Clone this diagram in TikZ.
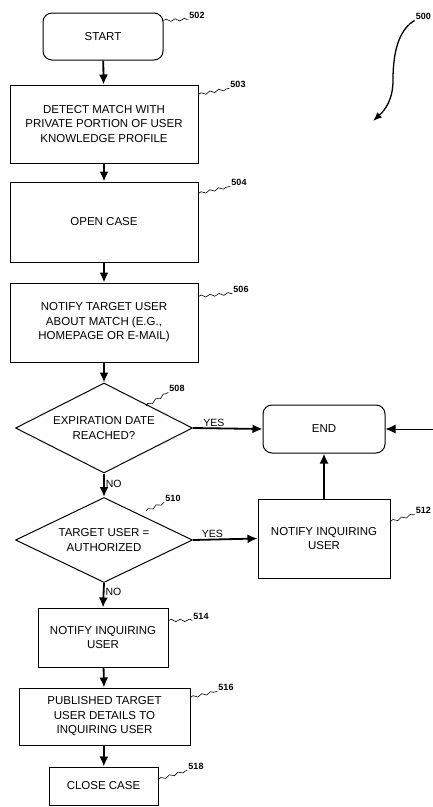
\documentclass[tikz,border=0pt]{standalone}
\usepackage{fontspec}
\setmainfont{Liberation Sans}
\usetikzlibrary{shapes.geometric,arrows.meta,decorations.pathmorphing}
\begin{document}
\begin{tikzpicture}[x=1pt,y=-1pt,
  box/.style={draw, line width=1pt, align=center, inner sep=0pt,
    font=\fontsize{11.5}{14.5}\selectfont},
  term/.style={box, rounded corners=9pt},
  dec/.style={draw, diamond, line width=1pt, align=center, inner sep=0pt, aspect=2,
    font=\fontsize{11.5}{14.5}\selectfont},
  flow/.style={line width=1.8pt, -{Latex[length=10pt,width=9pt]}},
  refnum/.style={font=\fontsize{9}{10}\selectfont\bfseries, inner sep=1pt},
  leader/.style={line width=0.6pt, decorate, decoration={snake, amplitude=1.2pt, segment length=9pt}},
  lbl/.style={font=\fontsize{10.5}{12}\selectfont, inner sep=1pt}]
\useasboundingbox (0,0) rectangle (432,807);

% nodes
\node[term, minimum width=120pt, minimum height=47pt] (start) at (103,36.5) {START};
\node[box, minimum width=188pt, minimum height=78pt] (b503) at (104,124) {DETECT MATCH WITH\\PRIVATE PORTION OF USER\\KNOWLEDGE PROFILE};
\node[box, minimum width=188pt, minimum height=80pt] (b504) at (104,222) {OPEN CASE};
\node[box, minimum width=188pt, minimum height=79pt] (b506) at (104,322.5) {NOTIFY TARGET USER\\ABOUT MATCH (E.G.,\\HOMEPAGE OR E-MAIL)};
\node[dec, minimum width=177pt, minimum height=90pt] (d508) at (104,428) {EXPIRATION DATE\\REACHED?};
\node[dec, minimum width=177pt, minimum height=85pt] (d510) at (104,540) {TARGET USER =\\AUTHORIZED};
\node[term, minimum width=122pt, minimum height=48pt] (end) at (324,429) {END};
\node[box, minimum width=132pt, minimum height=79pt] (b512) at (324,538.5) {NOTIFY INQUIRING\\USER};
\node[box, minimum width=130pt, minimum height=59pt] (b514) at (103,637.5) {NOTIFY INQUIRING\\USER};
\node[box, minimum width=171pt, minimum height=57pt] (b516) at (104.5,716.5) {PUBLISHED TARGET\\USER DETAILS TO\\INQUIRING USER};
\node[box, minimum width=109pt, minimum height=38pt] (b518) at (103.5,786) {CLOSE CASE};

% connectors
\draw[flow] (start) -- (b503);
\draw[flow] (b503) -- (b504);
\draw[flow] (b504) -- (b506);
\draw[flow] (b506) -- (d508.north);
\draw[flow] (d508.south) -- node[lbl, right, pos=0.45] {NO} (d510.north);
\draw[flow] (d508.east) -- node[lbl, above, pos=0.3] {YES} (end.west);
\draw[flow] (d510.east) -- node[lbl, above, pos=0.3] {YES} (b512.west);
\draw[flow] (b512.north) -- (end.south);
\draw[flow] (d510.south) -- node[lbl, right, pos=0.35] {NO} (b514.north);
\draw[flow] (b514) -- (b516);
\draw[flow] (b516) -- (b518);
\coordinate (inR) at (434,429);
\draw[flow, line width=0.9pt] (inR) -- (end.east);

% reference numerals
\node[refnum] (n502) at (197,15) {502};
\node[refnum] (n503) at (238,84) {503};
\node[refnum] (n504) at (239,182) {504};
\node[refnum] (n506) at (241,289) {506};
\node[refnum] (n508) at (177,388) {508};
\node[refnum] (n510) at (173,498) {510};
\node[refnum, anchor=east] (n512) at (432,510) {512};
\node[refnum] (n514) at (201,616) {514};
\node[refnum] (n516) at (226,687) {516};
\node[refnum] (n518) at (196,766) {518};
\node[refnum, anchor=east] (n500) at (432,16) {500};

\draw[leader] ([yshift=-8pt]start.north east) -- (n502.south west);
\draw[leader] ([yshift=-10pt]b503.north east) -- (n503.south west);
\draw[leader] ([yshift=-12pt]b504.north east) -- (n504.south west);
\draw[leader] ([yshift=-14pt]b506.north east) -- (n506.south west);
\coordinate (p508) at (146,406);
\draw[leader] (p508) -- (n508.south west);
\coordinate (p510) at (146,511);
\draw[leader] (p510) -- (n510.south west);
\draw[leader] ([yshift=-23pt]b512.north east) -- (n512.south west);
\draw[leader] ([yshift=-13pt]b514.north east) -- (n514.south west);
\draw[leader] ([yshift=-10pt]b516.north east) -- (n516.south west);
\draw[leader] ([yshift=-13pt]b518.north east) -- (n518.south west);

% figure arrow
\draw[line width=1.3pt, -{Latex[length=9pt,width=7pt]}] (n500.south west) .. controls (402,28) and (393,45) .. (393,80) .. controls (393,100) and (385,110) .. (373,121);
\end{tikzpicture}
\end{document}
